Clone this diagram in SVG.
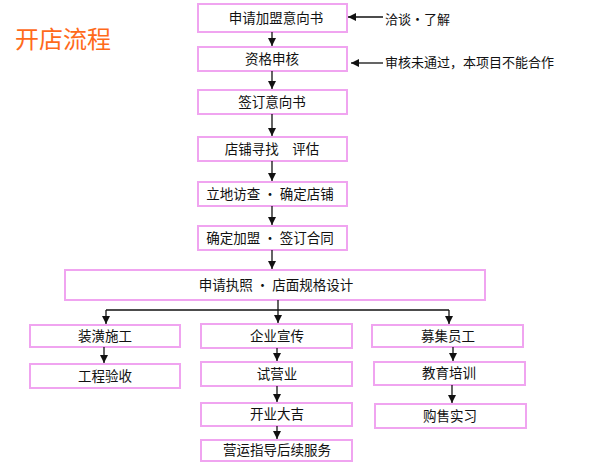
<svg xmlns="http://www.w3.org/2000/svg" width="590" height="468" viewBox="0 0 590 468">
<style>
.box{fill:#ffffff;stroke:#f0a4f0;stroke-width:2}
.t{font-family:"Noto Sans CJK SC","Noto Sans",sans-serif;font-size:13.5px;fill:#111;text-anchor:middle}
.n{font-family:"Noto Sans CJK SC","Noto Sans",sans-serif;font-size:13px;fill:#111}
.title{font-family:"Noto Sans CJK SC","Noto Sans",sans-serif;font-size:24px;fill:#ff6a1a}
.ln{fill:none;stroke:#111;stroke-width:1.3}
</style>
<defs>
<marker id="ah" viewBox="0 0 8 8" refX="8" refY="4" markerWidth="8" markerHeight="8" markerUnits="userSpaceOnUse" orient="auto">
<path d="M0,0 L8,4 L0,8 z" fill="#111"/>
</marker>
</defs>
<rect width="590" height="468" fill="#ffffff"/>
<text class="title" x="15" y="48">开店流程</text>

<g id="n1"><rect class="box" x="198" y="4" width="149" height="28"/><text class="t" x="276" y="23">申请加盟意向书</text></g>
<g id="n2"><rect class="box" x="198" y="47" width="149" height="24"/><text class="t" x="272" y="64">资格申核</text></g>
<g id="n3"><rect class="box" x="198" y="90" width="149" height="24"/><text class="t" x="272" y="107">签订意向书</text></g>
<g id="n4"><rect class="box" x="198" y="137" width="149" height="24"/><text class="t" x="272" y="154">店铺寻找　评估</text></g>
<g id="n5"><rect class="box" x="198" y="182" width="149" height="24"/><text class="t" x="270" y="199">立地访查 · 确定店铺</text></g>
<g id="n6"><rect class="box" x="198" y="226" width="149" height="24"/><text class="t" x="270" y="243">确定加盟 · 签订合同</text></g>
<g id="n7"><rect class="box" x="65" y="270" width="420" height="30"/><text class="t" x="276" y="290">申请执照 · 店面规格设计</text></g>

<g id="l1"><rect class="box" x="30" y="325" width="150" height="22"/><text class="t" x="105" y="341">装潢施工</text></g>
<g id="l2"><rect class="box" x="30" y="364" width="150" height="24"/><text class="t" x="105" y="381">工程验收</text></g>

<g id="m1"><rect class="box" x="201" y="324" width="151" height="24"/><text class="t" x="277" y="341">企业宣传</text></g>
<g id="m2"><rect class="box" x="201" y="362" width="151" height="24"/><text class="t" x="277" y="379">试营业</text></g>
<g id="m3"><rect class="box" x="201" y="403" width="151" height="23"/><text class="t" x="277" y="419">开业大吉</text></g>
<g id="m4"><rect class="box" x="201" y="440" width="151" height="21"/><text class="t" x="277" y="455">营运指导后续服务</text></g>

<g id="r1"><rect class="box" x="372" y="325" width="151" height="22"/><text class="t" x="448" y="341">募集员工</text></g>
<g id="r2"><rect class="box" x="374" y="362" width="151" height="23"/><text class="t" x="449" y="378">教育培训</text></g>
<g id="r3"><rect class="box" x="375" y="404" width="151" height="24"/><text class="t" x="450" y="421">购售实习</text></g>

<g id="notes">
<text class="n" x="385" y="24">洽谈·了解</text>
<text class="n" x="385" y="67">审核未通过，本项目不能合作</text>
</g>

<g id="connectors">
<line class="ln" x1="383" y1="17" x2="348" y2="17" marker-end="url(#ah)"/>
<line class="ln" x1="383" y1="63" x2="351" y2="63" marker-end="url(#ah)"/>
<line class="ln" x1="272" y1="32" x2="272" y2="46" marker-end="url(#ah)"/>
<line class="ln" x1="272" y1="71" x2="272" y2="89" marker-end="url(#ah)"/>
<line class="ln" x1="272" y1="114" x2="272" y2="136" marker-end="url(#ah)"/>
<line class="ln" x1="272" y1="161" x2="272" y2="181" marker-end="url(#ah)"/>
<line class="ln" x1="272" y1="206" x2="272" y2="225" marker-end="url(#ah)"/>
<line class="ln" x1="272" y1="250" x2="272" y2="269" marker-end="url(#ah)"/>
<line class="ln" x1="278" y1="300" x2="278" y2="323" marker-end="url(#ah)"/>
<line class="ln" x1="106" y1="310" x2="449" y2="310"/>
<line class="ln" x1="106" y1="310" x2="106" y2="324" marker-end="url(#ah)"/>
<line class="ln" x1="449" y1="310" x2="449" y2="324" marker-end="url(#ah)"/>
<line class="ln" x1="104" y1="347" x2="104" y2="363" marker-end="url(#ah)"/>
<line class="ln" x1="277" y1="348" x2="277" y2="361" marker-end="url(#ah)"/>
<line class="ln" x1="277" y1="386" x2="277" y2="402" marker-end="url(#ah)"/>
<line class="ln" x1="277" y1="426" x2="277" y2="439" marker-end="url(#ah)"/>
<line class="ln" x1="453" y1="347" x2="453" y2="361" marker-end="url(#ah)"/>
<line class="ln" x1="452" y1="385" x2="452" y2="403" marker-end="url(#ah)"/>
</g>
</svg>
